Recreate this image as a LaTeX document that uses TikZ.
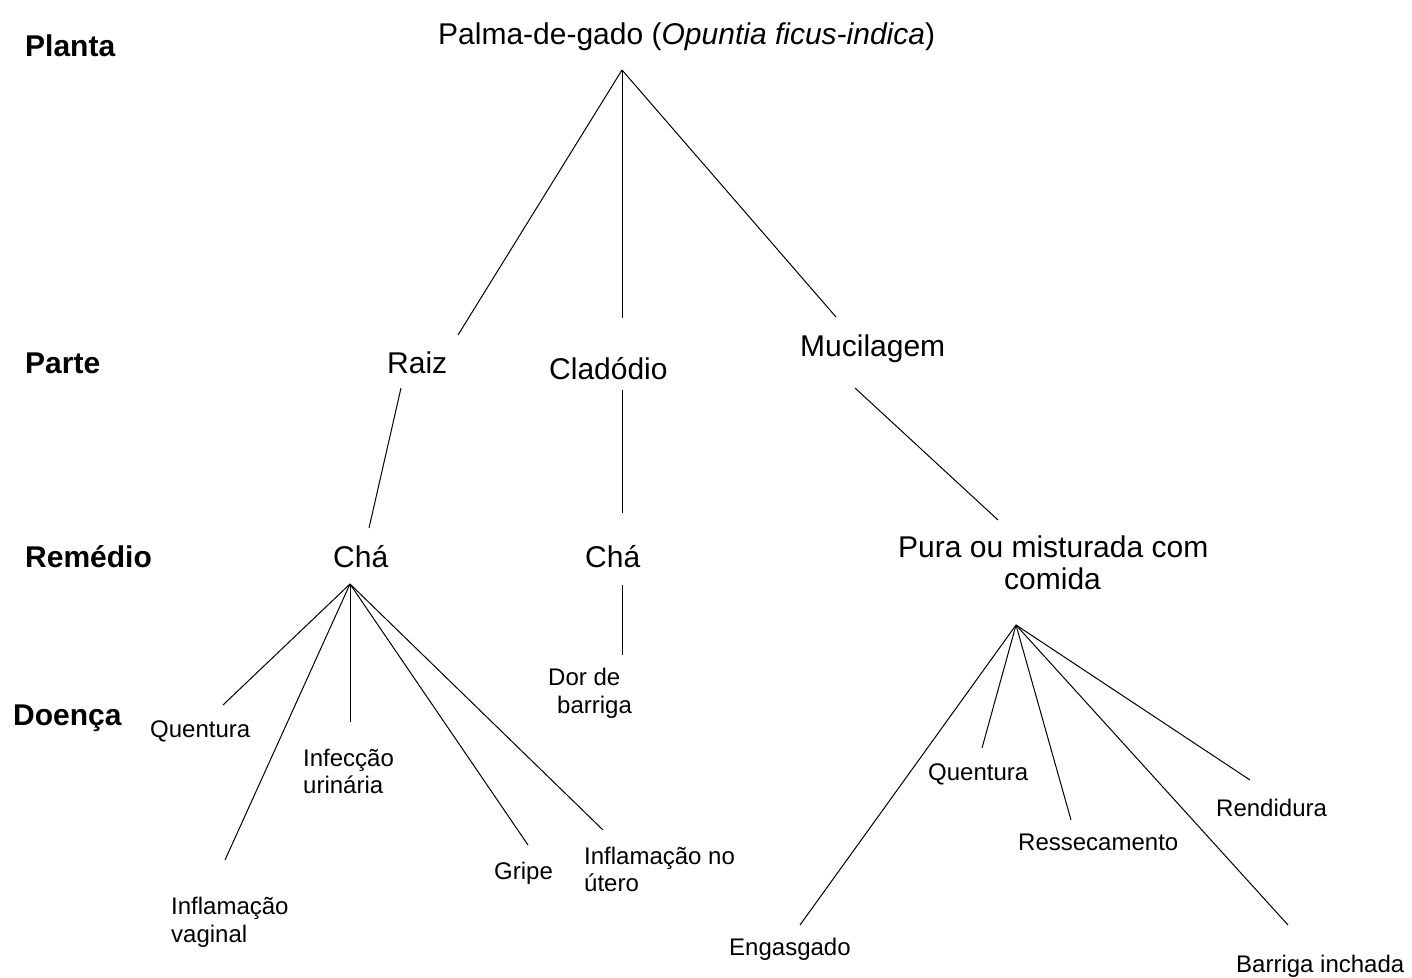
\documentclass[tikz,border=0pt]{standalone}
\usepackage{fontspec}
\setmainfont{Liberation Sans}
\begin{document}
\begin{tikzpicture}[x=1pt,y=-1pt,
  lvl/.style={anchor=base west,inner sep=0pt,font=\fontsize{30}{32}\selectfont\bfseries},
  big/.style={anchor=base west,inner sep=0pt,font=\fontsize{30}{32}\selectfont},
  small/.style={anchor=base west,inner sep=0pt,font=\fontsize{24}{27}\selectfont},
  edge/.style={draw=black,line width=1pt}]
\useasboundingbox (0,0) rectangle (1412,977);
% level labels
\node[lvl] (planta) at (25,56) {Planta};
\node[lvl] (parte) at (25,373) {Parte};
\node[lvl] (remedio) at (25,567) {Remédio};
\node[lvl] (doenca) at (13,725) {Doença};
% main nodes
\node[big] (palma) at (438,44) {Palma-de-gado (\textit{Opuntia ficus-indica})};
\node[big] (raiz) at (387,373) {Raiz};
\node[big] (clad) at (549,379) {Cladódio};
\node[big] (muci) at (800,356) {Mucilagem};
\node[big] (cha1) at (333,567) {Chá};
\node[big] (cha2) at (585,567) {Chá};
\node[big] (pura) at (898,557) {Pura ou misturada com};
\node[big] (pura2) at (1004,589) {comida};
% diseases
\node[small] (quent1) at (150,737) {Quentura};
\node[small] (infec) at (303,766) {Infecção};
\node[small] (infec2) at (303,793) {urinária};
\node[small] (gripe) at (494,879) {Gripe};
\node[small] (infut) at (584,864) {Inflamação no};
\node[small] (infut2) at (584,891) {útero};
\node[small] (infvag) at (171,914) {Inflamação};
\node[small] (infvag2) at (171,942) {vaginal};
\node[small] (dor) at (548,685) {Dor de};
\node[small] (dor2) at (557,713) {barriga};
\node[small] (quent2) at (928,780) {Quentura};
\node[small] (resse) at (1018,850) {Ressecamento};
\node[small] (rend) at (1216,816) {Rendidura};
\node[small] (enga) at (729,955) {Engasgado};
\node[small] (barr) at (1236,972) {Barriga inchada};
% connector end points
\coordinate (h0) at (622,70);
\coordinate (raizT) at (458,335);
\coordinate (cladT) at (622,318);
\coordinate (muciT) at (836,317);
\coordinate (raizB) at (401,388);
\coordinate (cha1T) at (369,528);
\coordinate (cladB) at (622,390);
\coordinate (cha2T) at (622,513);
\coordinate (muciB) at (855,388);
\coordinate (puraT) at (998,520);
\coordinate (h1) at (350,584);
\coordinate (quent1T) at (223,705);
\coordinate (infvagT) at (225,860);
\coordinate (infecT) at (350,722);
\coordinate (gripeT) at (528,845);
\coordinate (infutT) at (603,830);
\coordinate (cha2B) at (622,585);
\coordinate (dorT) at (622,655);
\coordinate (h2) at (1016,625);
\coordinate (engaT) at (800,925);
\coordinate (quent2T) at (982,748);
\coordinate (resseT) at (1071,820);
\coordinate (barrT) at (1288,925);
\coordinate (rendT) at (1250,780);
% connectors
\draw[edge] (h0) -- (raizT);
\draw[edge] (h0) -- (cladT);
\draw[edge] (h0) -- (muciT);
\draw[edge] (raizB) -- (cha1T);
\draw[edge] (cladB) -- (cha2T);
\draw[edge] (muciB) -- (puraT);
\draw[edge] (h1) -- (quent1T);
\draw[edge] (h1) -- (infvagT);
\draw[edge] (h1) -- (infecT);
\draw[edge] (h1) -- (gripeT);
\draw[edge] (h1) -- (infutT);
\draw[edge] (cha2B) -- (dorT);
\draw[edge] (h2) -- (engaT);
\draw[edge] (h2) -- (quent2T);
\draw[edge] (h2) -- (resseT);
\draw[edge] (h2) -- (barrT);
\draw[edge] (h2) -- (rendT);
\end{tikzpicture}
\end{document}
